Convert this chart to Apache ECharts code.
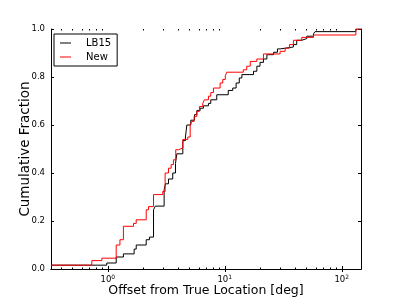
<!DOCTYPE html>
<html>
<head>
<meta charset="utf-8">
<script src="https://cdn.jsdelivr.net/npm/echarts@6/dist/echarts.min.js"></script>
<style>html,body{margin:0;padding:0;background:#fff}#c{width:400px;height:300px}</style>
</head>
<body>
<div id="c"></div>
<script>
// ---- data ----
const seriesNames = ['LB15', 'New'];
const lb15X = [0.327, 0.98, 1.18, 1.36, 1.68, 1.75, 2.13, 2.27, 2.46, 2.55, 3.03, 3.11, 3.30, 3.59, 3.79, 3.89, 4.38, 4.61, 4.74, 5.12, 5.51, 5.77, 6.15, 6.57, 7.25, 7.59, 8.54, 10.7, 11.7, 12.5, 13.3, 14.0, 17.6, 18.8, 20.0, 21.4, 22.9, 26.1, 28.2, 29.7, 38.6, 41.2, 45.5, 50.2, 57.3, 59.1, 132, 146];
const lb15Y = [0.016, 0.025, 0.050, 0.063, 0.083, 0.100, 0.122, 0.133, 0.247, 0.262, 0.330, 0.355, 0.375, 0.400, 0.440, 0.480, 0.535, 0.550, 0.600, 0.620, 0.643, 0.660, 0.670, 0.680, 0.690, 0.705, 0.726, 0.744, 0.754, 0.775, 0.796, 0.810, 0.824, 0.845, 0.861, 0.875, 0.893, 0.903, 0.917, 0.925, 0.935, 0.953, 0.960, 0.970, 0.980, 0.989, 1.000, 1.000];
const newX = [0.327, 0.73, 0.89, 1.18, 1.27, 1.36, 1.66, 1.75, 2.13, 2.23, 2.46, 2.95, 3.09, 3.30, 3.48, 3.64, 3.81, 4.02, 4.38, 4.83, 5.06, 5.22, 5.47, 5.77, 6.07, 6.48, 6.70, 7.25, 7.59, 8.00, 9.12, 9.61, 10.1, 10.4, 14.4, 15.4, 16.5, 18.8, 21.4, 29.7, 32.8, 35.7, 38.6, 45.5, 57.3, 132, 146];
const newY = [0.016, 0.035, 0.045, 0.100, 0.122, 0.178, 0.190, 0.205, 0.247, 0.260, 0.310, 0.323, 0.400, 0.420, 0.435, 0.455, 0.497, 0.504, 0.540, 0.550, 0.600, 0.615, 0.636, 0.657, 0.677, 0.690, 0.705, 0.720, 0.735, 0.754, 0.775, 0.790, 0.805, 0.820, 0.830, 0.845, 0.865, 0.875, 0.896, 0.907, 0.920, 0.935, 0.953, 0.965, 0.975, 1.000, 1.000];
const xMajorTicks = [1, 10, 100];
const xMinorTicks = [0.4, 0.5, 0.6, 0.7, 0.8, 0.9, 2, 3, 4, 5, 6, 7, 8, 9, 20, 30, 40, 50, 60, 70, 80, 90];
const yTicks = [0, 0.2, 0.4, 0.6, 0.8, 1.0];
const xMin = 0.327, xMax = 146;

const FONT = 'DejaVu Sans';
const zip = (xs, ys) => xs.map((x, i) => [x, ys[i]]);

function xAxisCfg(pos, ticks, len, labels) {
  return {
    type: 'log', logBase: 10, min: xMin, max: xMax, position: pos,
    axisLine: { show: labels, lineStyle: { color: '#000', width: 1 } },
    splitLine: { show: false },
    axisTick: { show: true, inside: true, length: len, customValues: ticks, lineStyle: { color: '#000', width: 1 } },
    minorTick: { show: false },
    axisLabel: labels ? {
      show: true, customValues: xMajorTicks, margin: 5, fontFamily: FONT, color: '#000',
      formatter: v => '{b|10}{s|' + Math.round(Math.log10(v)) + '}',
      rich: { b: { fontSize: 8.5, fontFamily: FONT, color: '#000' }, s: { fontSize: 6, fontFamily: FONT, color: '#000', padding: [0, 0, 6, 0] } }
    } : { show: false }
  };
}
function yAxisCfg(pos, labels) {
  return {
    type: 'value', min: 0, max: 1, interval: 0.2, position: pos,
    axisLine: { show: true, lineStyle: { color: '#000', width: 1 } },
    splitLine: { show: false },
    axisTick: { show: true, inside: true, length: 3, customValues: yTicks, lineStyle: { color: '#000', width: 1 } },
    axisLabel: labels ? { show: true, margin: 6, fontSize: 8.5, fontFamily: FONT, color: '#000', formatter: v => v.toFixed(1) } : { show: false },
    name: labels ? 'Cumulative Fraction' : '', nameLocation: 'middle', nameGap: 19, nameMoveOverlap: false,
    nameTextStyle: { fontSize: 13.5, fontFamily: FONT, color: '#000' }
  };
}

const xs = [
  xAxisCfg('bottom', xMajorTicks, 3, true),
  xAxisCfg('top', xMajorTicks, 3, false),
  xAxisCfg('bottom', xMinorTicks, 1.5, false),
  xAxisCfg('top', xMinorTicks, 1.5, false)
];
xs[0].name = 'Offset from True Location [deg]';
xs[0].nameLocation = 'middle';
xs[0].nameGap = 15;
xs[0].nameMoveOverlap = false;
xs[0].nameTextStyle = { fontSize: 12.5, fontFamily: FONT, color: '#000' };
xs[1].axisLine.show = true;

const chart = echarts.init(document.getElementById('c'), null, { renderer: 'canvas' });
chart.setOption({
  animation: false,
  backgroundColor: '#fff',
  grid: { left: 51, top: 29, width: 310, height: 240, containLabel: false, outerBoundsMode: 'none' },
  xAxis: xs,
  yAxis: [yAxisCfg('left', true), yAxisCfg('right', false)],
  legend: {
    left: 54, top: 34, orient: 'vertical',
    data: seriesNames.map(n => ({ name: n, icon: 'rect' })),
    borderColor: '#000', borderWidth: 1, padding: [4, 6, 4, 6],
    itemWidth: 11, itemHeight: 1, itemGap: 4,
    textStyle: { fontSize: 10, fontFamily: FONT, color: '#000', padding: [0, 0, 0, 10], lineHeight: 10 }
  },
  series: [
    { name: seriesNames[0], type: 'line', step: 'end', data: zip(lb15X, lb15Y), symbol: 'none', showSymbol: false,
      lineStyle: { color: '#000', width: 1 }, itemStyle: { color: '#000' }, xAxisIndex: 0, yAxisIndex: 0 },
    { name: seriesNames[1], type: 'line', step: 'end', data: zip(newX, newY), symbol: 'none', showSymbol: false,
      lineStyle: { color: '#f00', width: 1 }, itemStyle: { color: '#f00' }, xAxisIndex: 0, yAxisIndex: 0 }
  ]
});
</script>
</body>
</html>
